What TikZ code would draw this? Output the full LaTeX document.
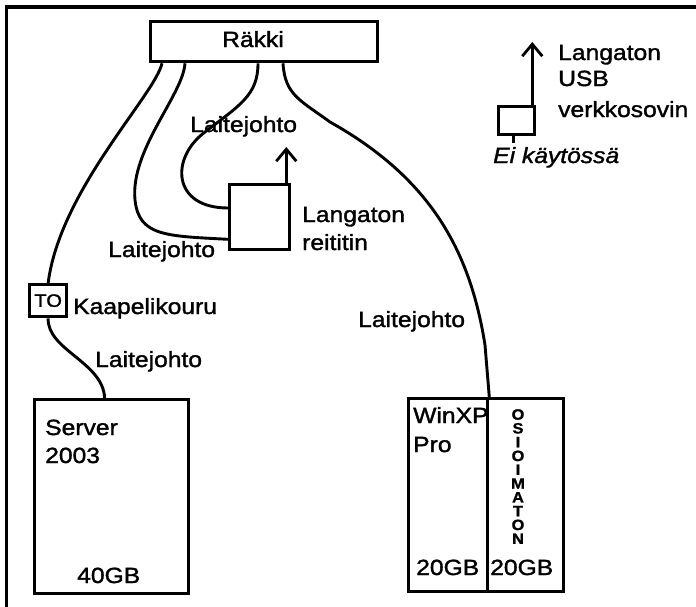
\documentclass[tikz,border=0pt]{standalone}
\usepackage{fontspec}
\setmainfont[FakeStretch=1.12,FakeBold=1.5]{Liberation Sans}
\newfontfamily\osiofont[FakeStretch=1.1,FakeBold=1]{Liberation Sans}
\usetikzlibrary{arrows.meta,calc}
\begin{document}
\begin{tikzpicture}[x=1pt,y=-1pt,
  box/.style={draw, line width=3.3pt, inner sep=0, anchor=north west},
  cable/.style={line width=2.9pt},
  lbl/.style={anchor=base west, inner sep=0, font=\fontsize{22}{26}\selectfont},
  itlbl/.style={anchor=base west, inner sep=0, font=\fontsize{22}{26}\selectfont\itshape},
  uparrow/.style={line width=2.8pt, -{Straight Barb[length=12pt,width=20pt,line width=2.8pt]}}
]
\useasboundingbox (0,0) rectangle (696,606);
\fill[white] (-6,-6) rectangle (702,612);
% frame
\coordinate (ftr) at (702,7);
\coordinate (fc) at (6.5,7);
\coordinate (fbl) at (6.5,612);
\draw[line width=3.2pt] (ftr) -- (fc) -- (fbl);

% boxes
\node[box, minimum width=227, minimum height=40] (rack) at (149,20) {};
\node[lbl, anchor=base] at (253,47) {Räkki};

\node[box, minimum width=37, minimum height=32, font=\fontsize{18}{20}\selectfont] (to) at (28,283) {TO};
\node[box, minimum width=60, minimum height=65] (router) at (228,183) {};
\node[box, minimum width=154, minimum height=194] (server) at (33,398) {};
\node[box, minimum width=79, minimum height=193] (winxp) at (407,397) {};
\node[box, minimum width=76, minimum height=193] (osio) at (486,397) {};
\node[box, minimum width=36, minimum height=28] (usb) at (497,105) {};

% cables
\draw[cable] ([xshift=13pt]rack.south west) .. controls (155,95) and (60,190) .. (to.north);
\draw[cable] ([xshift=36pt]rack.south west) .. controls (183,95) and (130,150) .. (135,200)
   .. controls (139,236) and (165,236) .. ([yshift=12pt]router.south west);
\draw[cable] ([xshift=109pt]rack.south west) .. controls (258,95) and (240,105) .. (205,132)
   .. controls (170,158) and (172,208) .. ([yshift=-25pt]router.north west);
\draw[cable] ([xshift=134pt]rack.south west) .. controls (285,95) and (300,100) .. (330,122)
   .. controls (430,178) and (470,250) .. (485,345) -- (winxp.north east);
\draw[cable] (to.south) .. controls (47,350) and (103,362) .. ([xshift=-7pt]server.north);

% arrows
\draw[uparrow] ([xshift=-5pt]router.north east) -- ++(0,-36);
\draw[uparrow] ([xshift=-4pt]usb.north east) -- ++(0,-63);
\draw[line width=2.4pt] ([xshift=-3pt]usb.south) -- ++(0,7);

% labels
\node[lbl] at (190,132) {Laitejohto};
\node[lbl] at (302,222) {Langaton};
\node[lbl] at (302,250) {reititin};
\node[lbl] at (108,257) {Laitejohto};
\node[lbl] at (73,314) {Kaapelikouru};
\node[lbl] at (95,367) {Laitejohto};
\node[lbl] at (358,327) {Laitejohto};
\node[lbl] at (45,435) {Server};
\node[lbl] at (45,463) {2003};
\node[lbl] at (77,583) {40GB};
\node[lbl] at (413,423) {WinXP};
\node[lbl] at (413,452) {Pro};
\node[lbl] at (416,575) {20GB};
\node[lbl] at (490,575) {20GB};
\node[inner sep=0, align=center, anchor=north, font=\osiofont\bfseries\fontsize{15}{13.8}\selectfont] at (518,409) {O\\S\\I\\O\\I\\M\\A\\T\\O\\N};
\node[lbl] at (558,60) {Langaton};
\node[lbl] at (558,86) {USB};
\node[lbl] at (558,117) {verkkosovin};
\node[itlbl] at (493,163) {Ei käytössä};
\end{tikzpicture}
\end{document}
